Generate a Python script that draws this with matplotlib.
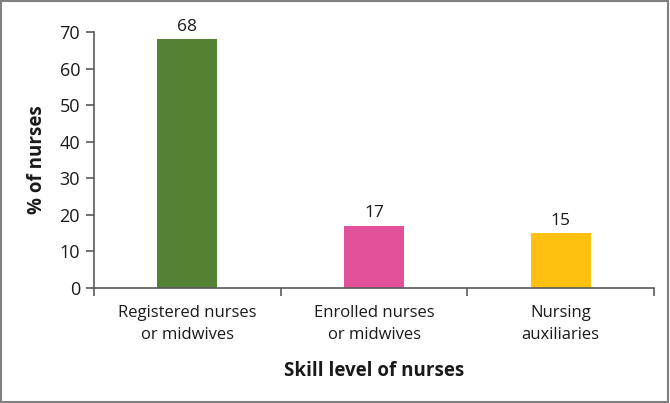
import matplotlib.pyplot as plt
import numpy as np
from matplotlib.patches import Rectangle

plt.rcParams['font.family'] = ['Open Sans', 'DejaVu Sans']

categories = ['Registered nurses\nor midwives', 'Enrolled nurses\nor midwives', 'Nursing\nauxiliaries']
values = [68, 17, 15]
colors = ['#548235', '#E2509A', '#FFC010']

fig = plt.figure(figsize=(6.7, 4.03), dpi=100)
ax = fig.add_axes([94 / 670, 1 - 288 / 403, 560 / 670, 256 / 403])

x = np.arange(len(values))
bars = ax.bar(x, values, width=0.32, color=colors)
for xi, v in zip(x, values):
    ax.text(xi, v + 1.2, str(v), ha='center', va='bottom', fontsize=12.5, color='#1a1a1a')

ax.set_xlim(-0.5, 2.5)
ax.set_ylim(0, 70)
ax.set_yticks(range(0, 71, 10))
ax.set_xticks(x)
ax.set_xticklabels(categories, fontsize=12, color='#1a1a1a', linespacing=1.55)
ax.set_xticks([-0.5, 0.5, 1.5, 2.5], minor=True)
ax.tick_params(axis='x', which='major', length=0, pad=12)
ax.tick_params(axis='x', which='minor', length=6, width=1.2, color='#595959', direction='out')
ax.tick_params(axis='y', length=6, width=1.2, color='#595959', labelsize=13, labelcolor='#1a1a1a', pad=4)

for s in ['top', 'right']:
    ax.spines[s].set_visible(False)
for s in ['left', 'bottom']:
    ax.spines[s].set_color('#595959')
    ax.spines[s].set_linewidth(1.2)

ax.set_ylabel('% of nurses', fontsize=13.5, fontweight='bold', color='#1a1a1a', labelpad=9)
ax.set_xlabel('Skill level of nurses', fontsize=13.5, fontweight='bold', color='#1a1a1a', labelpad=13)

fig.patches.append(Rectangle((0.002, 0.003), 0.995, 0.994, transform=fig.transFigure,
                             fill=False, edgecolor='#808080', linewidth=1.5))

fig.savefig('out.png', dpi=100)
